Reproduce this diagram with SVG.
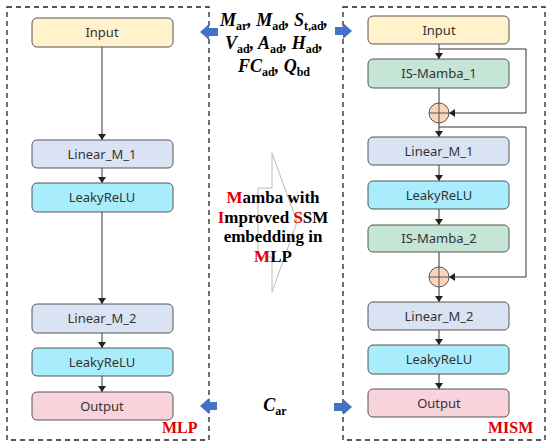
<svg xmlns="http://www.w3.org/2000/svg" width="550" height="448" viewBox="0 0 550 448">
<style>
.box{fill:none;stroke:#222;stroke-width:1.3;stroke-dasharray:5,4}
.n{stroke:#555;stroke-width:1}
.t{font-family:"Noto Sans",sans-serif;font-size:13px;fill:#333;text-anchor:middle}
.in{fill:#FFF2CC}.lin{fill:#DAE3F3}.relu{fill:#A9ECFB}.out{fill:#F9D3DC}.is{fill:#C5E5D6}
.c{fill:none;stroke:#333;stroke-width:1}
.bl{fill:#4472C4}
.red{font-family:"Liberation Serif",serif;font-weight:bold;font-size:16px;fill:#E00000}
.s{font-family:"Liberation Serif",serif;font-weight:bold;font-style:italic;font-size:18px;fill:#000;text-anchor:middle}
.sub{font-style:normal;font-size:12px}
.mid{font-family:"Liberation Serif",serif;font-weight:bold;font-size:17px;fill:#000;text-anchor:middle}
.r{fill:#E00000}
</style>
<defs>
<marker id="ah" markerWidth="6" markerHeight="8" refX="6" refY="4" orient="auto" markerUnits="userSpaceOnUse">
<path d="M0,0 L6,4 L0,8 Z" fill="#222"/>
</marker>
</defs>
<rect class="box" x="7" y="7" width="202" height="433"/>
<rect class="box" x="343" y="7" width="202" height="433"/>
<g id="connectors">
<line class="c" x1="102" y1="47" x2="102" y2="140" marker-end="url(#ah)"/>
<line class="c" x1="102" y1="168" x2="102" y2="183" marker-end="url(#ah)"/>
<line class="c" x1="102" y1="212" x2="102" y2="304" marker-end="url(#ah)"/>
<line class="c" x1="102" y1="333" x2="102" y2="348" marker-end="url(#ah)"/>
<line class="c" x1="102" y1="376" x2="102" y2="392" marker-end="url(#ah)"/>
<line class="c" x1="439" y1="44" x2="439" y2="59" marker-end="url(#ah)"/>
<line class="c" x1="439" y1="88" x2="439" y2="103"/>
<line class="c" x1="439" y1="123" x2="439" y2="137" marker-end="url(#ah)"/>
<line class="c" x1="439" y1="165" x2="439" y2="181" marker-end="url(#ah)"/>
<line class="c" x1="439" y1="209" x2="439" y2="225" marker-end="url(#ah)"/>
<line class="c" x1="439" y1="252" x2="439" y2="267"/>
<line class="c" x1="439" y1="287" x2="439" y2="302" marker-end="url(#ah)"/>
<line class="c" x1="439" y1="330" x2="439" y2="345" marker-end="url(#ah)"/>
<line class="c" x1="439" y1="374" x2="439" y2="389" marker-end="url(#ah)"/>
<polyline class="c" points="439,49 526,49 526,113 449,113" marker-end="url(#ah)"/>
<polyline class="c" points="439,127 526,127 526,277 449,277" marker-end="url(#ah)"/>
</g>
<g id="mlp-input"><rect class="n in" x="32" y="18" width="141" height="29" rx="5"/><text class="t" x="102" y="37">Input</text></g>
<g id="mlp-lin1"><rect class="n lin" x="32" y="140" width="141" height="28" rx="5"/><text class="t" x="102" y="159">Linear_M_1</text></g>
<g id="mlp-relu1"><rect class="n relu" x="32" y="183" width="141" height="29" rx="5"/><text class="t" x="102" y="202">LeakyReLU</text></g>
<g id="mlp-lin2"><rect class="n lin" x="32" y="304" width="141" height="29" rx="5"/><text class="t" x="102" y="323">Linear_M_2</text></g>
<g id="mlp-relu2"><rect class="n relu" x="32" y="348" width="141" height="28" rx="5"/><text class="t" x="102" y="367">LeakyReLU</text></g>
<g id="mlp-output"><rect class="n out" x="32" y="392" width="141" height="28" rx="5"/><text class="t" x="102" y="411">Output</text></g>
<text class="red" x="162" y="433">MLP</text>
<g id="mism-input"><rect class="n in" x="368" y="16" width="141" height="28" rx="5"/><text class="t" x="439" y="35">Input</text></g>
<g id="mism-is1"><rect class="n is" x="368" y="59" width="141" height="29" rx="5"/><text class="t" x="439" y="78">IS-Mamba_1</text></g>
<g id="mism-plus1"><circle cx="439" cy="113" r="10" fill="#F8D5BB" stroke="#555"/><path d="M429,113 H449 M439,103 V123" stroke="#555" stroke-width="1"/></g>
<g id="mism-lin1"><rect class="n lin" x="368" y="137" width="141" height="28" rx="5"/><text class="t" x="439" y="156">Linear_M_1</text></g>
<g id="mism-relu1"><rect class="n relu" x="368" y="181" width="141" height="28" rx="5"/><text class="t" x="439" y="200">LeakyReLU</text></g>
<g id="mism-is2"><rect class="n is" x="368" y="225" width="141" height="27" rx="5"/><text class="t" x="439" y="243">IS-Mamba_2</text></g>
<g id="mism-plus2"><circle cx="439" cy="277" r="10" fill="#F8D5BB" stroke="#555"/><path d="M429,277 H449 M439,267 V287" stroke="#555" stroke-width="1"/></g>
<g id="mism-lin2"><rect class="n lin" x="368" y="302" width="141" height="28" rx="5"/><text class="t" x="439" y="321">Linear_M_2</text></g>
<g id="mism-relu2"><rect class="n relu" x="368" y="345" width="141" height="29" rx="5"/><text class="t" x="439" y="364">LeakyReLU</text></g>
<g id="mism-output"><rect class="n out" x="368" y="389" width="141" height="28" rx="5"/><text class="t" x="439" y="408">Output</text></g>
<text class="red" x="488" y="433">MISM</text>
<g id="blue-arrows">
<path class="bl" d="M200,32 L209,24 L209,28 L218,28 L218,36 L209,36 L209,40 Z"/>
<path class="bl" d="M352,31 L343,23 L343,27 L335,27 L335,35 L343,35 L343,39 Z"/>
<path class="bl" d="M200,406 L209,398 L209,402 L217,402 L217,410 L209,410 L209,414 Z"/>
<path class="bl" d="M352,407 L343,399 L343,403 L334,403 L334,411 L343,411 L343,415 Z"/>
</g>
<g id="inputs-text">
<text class="s" x="274" y="26">M<tspan class="sub" dy="4">ar</tspan><tspan dy="-4">, M</tspan><tspan class="sub" dy="4">ad</tspan><tspan dy="-4">, S</tspan><tspan class="sub" dy="4">t,ad</tspan><tspan dy="-4">,</tspan></text>
<text class="s" x="274" y="49">V<tspan class="sub" dy="4">ad</tspan><tspan dy="-4">, A</tspan><tspan class="sub" dy="4">ad</tspan><tspan dy="-4">, H</tspan><tspan class="sub" dy="4">ad</tspan><tspan dy="-4">,</tspan></text>
<text class="s" x="274" y="72">FC<tspan class="sub" dy="4">ad</tspan><tspan dy="-4">, Q</tspan><tspan class="sub" dy="4">bd</tspan></text>
<text class="s" x="275" y="411">C<tspan class="sub" dy="4">ar</tspan></text>
</g>
<path d="M258,188 H272 V153 L297,222 L272,292 V257 H258 Z" fill="none" stroke="#BBB" stroke-width="1"/>
<text class="mid" x="273" y="203"><tspan class="r">M</tspan>amba with</text>
<text class="mid" x="273" y="223"><tspan class="r">I</tspan>mproved <tspan class="r">S</tspan>SM</text>
<text class="mid" x="273" y="242">embedding in</text>
<text class="mid" x="273" y="262"><tspan class="r">M</tspan>LP</text>
</svg>
